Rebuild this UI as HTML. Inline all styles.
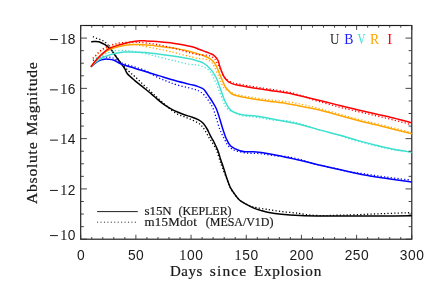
<!DOCTYPE html><html><head><meta charset="utf-8"><style>
html,body{margin:0;padding:0;background:#fff}
body{width:436px;height:291px;overflow:hidden}
svg{display:block;will-change:transform}
</style></head><body>
<svg width="436" height="291" viewBox="0 0 436 291">
<defs><clipPath id="cp"><rect x="80.7" y="25.5" width="331.6" height="213.7"/></clipPath></defs>
<rect width="436" height="291" fill="#fff"/>
<rect x="80.7" y="25.5" width="331.1" height="213.7" fill="none" stroke="#1a1a1a" stroke-width="1.15"/>
<g clip-path="url(#cp)" fill="none" stroke-linejoin="round">
<path d="M91.20 41.70C91.67 41.66 93.15 41.50 94.00 41.45C94.85 41.40 95.50 41.34 96.30 41.40C97.10 41.46 98.00 41.57 98.80 41.80C99.60 42.02 100.23 42.35 101.10 42.75C101.97 43.15 103.08 43.68 104.00 44.20C104.92 44.72 105.80 45.27 106.60 45.85C107.40 46.43 107.98 46.99 108.80 47.70C109.62 48.41 110.58 49.02 111.50 50.10C112.42 51.18 113.27 52.72 114.30 54.20C115.33 55.68 116.57 57.43 117.70 59.00C118.83 60.57 120.18 62.37 121.10 63.60C122.02 64.83 122.57 65.52 123.20 66.40C123.83 67.28 124.20 67.68 124.90 68.90C125.60 70.12 125.75 71.75 127.40 73.70C129.05 75.65 132.20 78.35 134.80 80.60C137.40 82.85 140.25 84.98 143.00 87.20C145.75 89.42 148.98 91.95 151.30 93.90C153.62 95.85 154.82 97.15 156.90 98.90C158.98 100.65 161.52 102.78 163.80 104.40C166.08 106.02 168.32 107.33 170.60 108.60C172.88 109.87 175.20 110.97 177.50 112.00C179.80 113.03 182.10 113.98 184.40 114.80C186.70 115.62 189.00 116.08 191.30 116.90C193.60 117.72 196.18 118.62 198.20 119.70C200.22 120.78 201.92 121.85 203.40 123.40C204.88 124.95 206.00 127.10 207.10 129.00C208.20 130.90 209.10 133.05 210.00 134.80C210.90 136.55 211.97 138.55 212.50 139.50C213.03 140.45 212.57 139.25 213.20 140.50C213.83 141.75 215.47 145.15 216.30 147.00C217.13 148.85 217.42 149.35 218.20 151.60C218.98 153.85 220.18 158.03 221.00 160.50C221.82 162.97 222.12 163.40 223.10 166.40C224.08 169.40 225.63 174.87 226.90 178.50C228.17 182.13 229.22 185.33 230.70 188.20C232.18 191.07 234.25 193.65 235.80 195.70C237.35 197.75 238.15 199.02 240.00 200.50C241.85 201.98 244.60 203.33 246.90 204.60C249.20 205.87 251.52 207.13 253.80 208.10C256.08 209.07 258.32 209.72 260.60 210.40C262.88 211.08 264.05 211.55 267.50 212.20C270.95 212.85 275.88 213.73 281.30 214.30C286.72 214.87 292.97 215.31 300.00 215.60C307.03 215.89 314.17 215.98 323.50 216.05C332.83 216.12 346.08 216.01 356.00 216.00C365.92 215.99 373.70 216.05 383.00 216.00C392.30 215.95 407.00 215.75 411.80 215.70" stroke="#000000" stroke-width="1.5"/>
<path d="M92.90 36.70C93.42 36.93 94.95 37.70 96.00 38.10C97.05 38.50 98.12 38.70 99.20 39.10C100.28 39.50 101.47 39.95 102.50 40.50C103.53 41.05 104.53 41.68 105.40 42.40C106.27 43.12 106.97 44.03 107.70 44.80C108.43 45.57 109.13 46.12 109.80 47.00C110.47 47.88 110.92 48.90 111.70 50.10C112.48 51.30 113.47 52.72 114.50 54.20C115.53 55.68 116.75 57.43 117.90 59.00C119.05 60.57 120.35 62.30 121.40 63.60C122.45 64.90 123.27 65.82 124.20 66.80C125.13 67.78 126.10 68.63 127.00 69.50C127.90 70.37 128.30 70.83 129.60 72.00C130.90 73.17 132.57 74.45 134.80 76.50C137.03 78.55 140.25 81.72 143.00 84.30C145.75 86.88 148.98 89.83 151.30 92.00C153.62 94.17 154.82 95.38 156.90 97.30C158.98 99.22 162.12 102.00 163.80 103.50C165.48 105.00 165.87 105.28 167.00 106.30C168.13 107.32 168.85 108.30 170.60 109.60C172.35 110.90 175.20 112.90 177.50 114.10C179.80 115.30 182.10 115.88 184.40 116.80C186.70 117.72 189.00 118.57 191.30 119.60C193.60 120.63 196.37 121.85 198.20 123.00C200.03 124.15 201.12 125.17 202.30 126.50C203.48 127.83 204.23 129.23 205.30 131.00C206.37 132.77 207.58 135.25 208.70 137.10C209.82 138.95 210.82 140.20 212.00 142.10C213.18 144.00 214.93 146.85 215.80 148.50C216.67 150.15 216.50 149.92 217.20 152.00C217.90 154.08 219.18 158.50 220.00 161.00C220.82 163.50 220.98 164.07 222.10 167.00C223.22 169.93 225.30 175.07 226.70 178.60C228.10 182.13 229.00 185.35 230.50 188.20C232.00 191.05 234.12 193.67 235.70 195.70C237.28 197.73 238.13 198.95 240.00 200.40C241.87 201.85 244.90 203.37 246.90 204.40C248.90 205.43 250.40 206.05 252.00 206.60C253.60 207.15 253.92 207.23 256.50 207.70C259.08 208.17 263.37 208.77 267.50 209.40C271.63 210.03 276.72 210.92 281.30 211.50C285.88 212.08 291.88 212.55 295.00 212.90C298.12 213.25 297.53 213.25 300.00 213.60C302.47 213.95 305.88 214.67 309.80 215.00C313.72 215.33 318.92 215.57 323.50 215.60C328.08 215.63 331.88 215.35 337.30 215.20C342.72 215.05 348.30 214.97 356.00 214.70C363.70 214.43 374.20 213.95 383.50 213.60C392.80 213.25 407.08 212.77 411.80 212.60" stroke="#000000" stroke-width="1.3" stroke-dasharray="1.2 2.2"/>
<path d="M90.90 66.80C91.47 66.30 93.15 64.72 94.30 63.80C95.45 62.88 96.65 61.95 97.80 61.30C98.95 60.65 100.07 60.25 101.20 59.90C102.33 59.55 103.45 59.32 104.60 59.20C105.75 59.08 106.57 59.03 108.10 59.20C109.63 59.37 111.72 59.45 113.80 60.20C115.88 60.95 117.93 62.60 120.60 63.70C123.27 64.80 126.07 65.62 129.80 66.80C133.53 67.98 138.05 69.28 143.00 70.80C147.95 72.32 153.92 74.20 159.50 75.90C165.08 77.60 170.92 79.47 176.50 81.00C182.08 82.53 189.27 84.12 193.00 85.10C196.73 86.08 197.35 86.37 198.90 86.90C200.45 87.43 201.50 87.90 202.30 88.30C203.10 88.70 203.25 88.88 203.70 89.30C204.15 89.72 204.43 90.05 205.00 90.80C205.57 91.55 206.40 92.78 207.10 93.80C207.80 94.82 208.50 95.87 209.20 96.90C209.90 97.93 210.13 98.07 211.30 100.00C212.47 101.93 214.83 105.50 216.20 108.50C217.57 111.50 218.40 114.58 219.50 118.00C220.60 121.42 221.68 125.58 222.80 129.00C223.92 132.42 224.88 135.67 226.20 138.50C227.52 141.33 228.42 143.95 230.70 146.00C232.98 148.05 237.22 149.83 239.90 150.80C242.58 151.77 244.05 151.62 246.80 151.80C249.55 151.98 253.65 151.73 256.40 151.90C259.15 152.07 261.00 152.47 263.30 152.80C265.60 153.13 267.08 153.32 270.20 153.90C273.32 154.48 277.47 155.33 282.00 156.30C286.53 157.27 291.92 158.42 297.40 159.70C302.88 160.98 309.08 162.63 314.90 164.00C320.72 165.37 325.45 166.35 332.30 167.90C339.15 169.45 349.75 171.97 356.00 173.30C362.25 174.63 365.22 175.10 369.80 175.90C374.38 176.70 378.92 177.42 383.50 178.10C388.08 178.78 392.58 179.37 397.30 180.00C402.02 180.63 409.38 181.58 411.80 181.90" stroke="#0000ff" stroke-width="1.5"/>
<path d="M92.90 60.50C94.33 59.95 98.98 57.75 101.50 57.20C104.02 56.65 106.08 57.07 108.00 57.20C109.92 57.33 110.78 57.08 113.00 58.00C115.22 58.92 118.55 61.47 121.30 62.70C124.05 63.93 126.75 64.53 129.50 65.40C132.25 66.27 135.05 67.02 137.80 67.90C140.55 68.78 143.75 69.68 146.00 70.70C148.25 71.72 148.97 72.70 151.30 74.00C153.63 75.30 157.25 77.25 160.00 78.50C162.75 79.75 165.05 80.45 167.80 81.50C170.55 82.55 172.30 83.57 176.50 84.80C180.70 86.03 189.15 87.80 193.00 88.90C196.85 90.00 197.67 90.30 199.60 91.40C201.53 92.50 202.95 93.72 204.60 95.50C206.25 97.28 208.10 99.97 209.50 102.10C210.90 104.23 211.87 105.62 213.00 108.30C214.13 110.98 215.20 114.77 216.30 118.20C217.40 121.63 218.65 126.22 219.60 128.90C220.55 131.58 221.13 132.48 222.00 134.30C222.87 136.12 223.88 138.02 224.80 139.80C225.72 141.58 226.37 143.50 227.50 145.00C228.63 146.50 230.22 147.83 231.60 148.80C232.98 149.77 233.97 150.20 235.80 150.80C237.63 151.40 240.32 152.00 242.60 152.40C244.88 152.80 247.20 153.03 249.50 153.20C251.80 153.37 254.10 153.27 256.40 153.40C258.70 153.53 261.00 153.73 263.30 154.00C265.60 154.27 267.92 154.67 270.20 155.00C272.48 155.33 275.03 155.75 277.00 156.00C278.97 156.25 280.67 156.42 282.00 156.50C283.33 156.58 284.00 156.45 285.00 156.48C286.00 156.51 287.00 156.54 288.00 156.69C289.00 156.83 290.00 157.12 291.00 157.35C292.00 157.57 293.00 157.79 294.00 158.02C295.00 158.24 296.00 158.47 297.00 158.71C298.00 158.94 299.00 159.18 300.00 159.42C301.00 159.66 302.00 159.85 303.00 160.16C304.00 160.47 305.00 160.92 306.00 161.30C307.00 161.68 308.00 162.10 309.00 162.44C310.00 162.77 311.00 163.04 312.00 163.30C313.00 163.57 314.00 163.79 315.00 164.02C316.00 164.26 317.00 164.49 318.00 164.72C319.00 164.94 320.00 165.17 321.00 165.39C322.00 165.61 323.00 165.83 324.00 166.05C325.00 166.28 326.00 166.50 327.00 166.72C328.00 166.94 329.00 167.16 330.00 167.38C331.00 167.61 332.00 167.83 333.00 168.06C334.00 168.29 335.00 168.52 336.00 168.75C337.00 168.98 338.00 169.21 339.00 169.44C340.00 169.67 341.00 169.90 342.00 170.13C343.00 170.36 344.00 170.59 345.00 170.83C346.00 171.06 347.00 171.30 348.00 171.51C349.00 171.73 350.00 171.94 351.00 172.10C352.00 172.27 353.00 172.37 354.00 172.50C355.00 172.63 356.00 172.75 357.00 172.87C358.00 172.99 359.00 173.09 360.00 173.21C361.00 173.33 362.00 173.44 363.00 173.59C364.00 173.74 365.00 173.93 366.00 174.09C367.00 174.26 368.00 174.42 369.00 174.58C370.00 174.74 371.00 174.90 372.00 175.06C373.00 175.22 374.00 175.37 375.00 175.52C376.00 175.67 377.00 175.82 378.00 175.97C379.00 176.11 380.00 176.25 381.00 176.39C382.00 176.54 383.00 176.67 384.00 176.81C385.00 176.95 386.00 177.08 387.00 177.21C388.00 177.34 389.00 177.46 390.00 177.59C391.00 177.71 392.00 177.83 393.00 177.95C394.00 178.08 395.00 178.20 396.00 178.32C397.00 178.44 398.00 178.56 399.00 178.68C400.00 178.80 401.00 178.92 402.00 179.04C403.00 179.16 404.00 179.28 405.00 179.40C406.00 179.52 407.00 179.64 408.00 179.75C409.00 179.87 410.50 180.05 411.00 180.11" stroke="#0000ff" stroke-width="1.3" stroke-dasharray="1.2 2.2"/>
<path d="M90.90 66.80C91.47 66.23 93.15 64.43 94.30 63.40C95.45 62.37 96.65 61.42 97.80 60.60C98.95 59.78 100.07 59.13 101.20 58.50C102.33 57.87 103.45 57.30 104.60 56.80C105.75 56.30 106.58 56.00 108.10 55.50C109.62 55.00 111.08 54.37 113.70 53.80C116.32 53.23 120.75 52.42 123.80 52.10C126.85 51.78 129.30 51.88 132.00 51.90C134.70 51.92 137.67 52.08 140.00 52.20C142.33 52.32 143.25 52.35 146.00 52.60C148.75 52.85 152.00 53.13 156.50 53.70C161.00 54.27 167.50 55.15 173.00 56.00C178.50 56.85 185.67 58.05 189.50 58.80C193.33 59.55 194.07 59.97 196.00 60.50C197.93 61.03 199.52 61.33 201.10 62.00C202.68 62.67 204.18 63.55 205.50 64.50C206.82 65.45 207.92 66.63 209.00 67.70C210.08 68.77 211.07 69.72 212.00 70.90C212.93 72.08 213.83 73.53 214.60 74.80C215.37 76.07 215.67 76.27 216.60 78.50C217.53 80.73 218.90 84.65 220.20 88.20C221.50 91.75 222.97 96.50 224.40 99.80C225.83 103.10 227.38 106.02 228.80 108.00C230.22 109.98 231.07 110.65 232.90 111.70C234.73 112.75 237.52 113.70 239.80 114.30C242.08 114.90 244.32 115.05 246.60 115.30C248.88 115.55 251.20 115.57 253.50 115.80C255.80 116.03 258.10 116.33 260.40 116.70C262.70 117.07 265.00 117.57 267.30 118.00C269.60 118.43 272.08 118.90 274.20 119.30C276.32 119.70 276.73 119.77 280.00 120.40C283.27 121.03 289.22 122.08 293.80 123.10C298.38 124.12 302.92 125.28 307.50 126.50C312.08 127.72 315.88 128.93 321.30 130.40C326.72 131.87 333.98 133.63 340.00 135.30C346.02 136.97 351.58 138.80 357.40 140.40C363.22 142.00 369.08 143.48 374.90 144.90C380.72 146.32 386.15 147.67 392.30 148.90C398.45 150.13 408.55 151.73 411.80 152.30" stroke="#40e0d0" stroke-width="1.5"/>
<path d="M92.90 59.70C93.50 59.38 95.23 58.42 96.50 57.80C97.77 57.18 99.12 56.58 100.50 56.00C101.88 55.42 103.43 54.90 104.80 54.30C106.17 53.70 107.33 52.95 108.70 52.40C110.07 51.85 110.90 51.32 113.00 51.00C115.10 50.68 118.55 50.53 121.30 50.50C124.05 50.47 126.75 50.52 129.50 50.80C132.25 51.08 135.05 51.72 137.80 52.20C140.55 52.68 142.88 53.00 146.00 53.70C149.12 54.40 152.00 55.27 156.50 56.40C161.00 57.53 167.50 59.18 173.00 60.50C178.50 61.82 185.67 63.58 189.50 64.30C193.33 65.02 194.03 64.52 196.00 64.80C197.97 65.08 199.22 65.15 201.30 66.00C203.38 66.85 206.70 68.40 208.50 69.90C210.30 71.40 211.05 73.23 212.10 75.00C213.15 76.77 213.85 78.42 214.80 80.50C215.75 82.58 216.38 84.03 217.80 87.50C219.22 90.97 221.97 98.05 223.30 101.30C224.63 104.55 224.68 105.45 225.80 107.00C226.92 108.55 228.63 109.69 230.00 110.60C231.37 111.51 232.83 111.90 234.00 112.45C235.17 113.00 236.00 113.48 237.00 113.91C238.00 114.35 239.00 114.75 240.00 115.08C241.00 115.42 242.00 115.70 243.00 115.91C244.00 116.12 245.00 116.22 246.00 116.34C247.00 116.45 248.00 116.52 249.00 116.60C250.00 116.67 251.00 116.70 252.00 116.77C253.00 116.85 254.00 116.95 255.00 117.06C256.00 117.17 257.00 117.30 258.00 117.44C259.00 117.58 260.00 117.73 261.00 117.90C262.00 118.07 263.00 118.26 264.00 118.45C265.00 118.65 266.00 118.85 267.00 119.04C268.00 119.24 269.00 119.42 270.00 119.61C271.00 119.80 272.00 120.05 273.00 120.17C274.00 120.30 275.00 120.33 276.00 120.37C277.00 120.41 278.00 120.39 279.00 120.39C280.00 120.39 281.00 120.39 282.00 120.38C283.00 120.37 284.00 120.25 285.00 120.34C286.00 120.43 287.00 120.72 288.00 120.91C289.00 121.11 290.00 121.30 291.00 121.51C292.00 121.71 293.00 121.92 294.00 122.14C295.00 122.37 296.00 122.60 297.00 122.84C298.00 123.07 299.00 123.28 300.00 123.56C301.00 123.84 302.00 124.19 303.00 124.51C304.00 124.83 305.00 125.16 306.00 125.48C307.00 125.80 308.00 126.12 309.00 126.44C310.00 126.75 311.00 127.06 312.00 127.37C313.00 127.69 314.00 128.01 315.00 128.33C316.00 128.65 317.00 128.98 318.00 129.28C319.00 129.59 320.00 129.87 321.00 130.15C322.00 130.44 323.00 130.71 324.00 130.99C325.00 131.26 326.00 131.53 327.00 131.80C328.00 132.07 329.00 132.34 330.00 132.61C331.00 132.88 332.00 133.14 333.00 133.42C334.00 133.69 335.00 133.97 336.00 134.28C337.00 134.59 338.00 134.94 339.00 135.27C340.00 135.61 341.00 135.95 342.00 136.30C343.00 136.64 344.00 137.00 345.00 137.36C346.00 137.71 347.00 138.11 348.00 138.44C349.00 138.77 350.00 139.05 351.00 139.34C352.00 139.64 353.00 139.94 354.00 140.23C355.00 140.52 356.00 140.81 357.00 141.09C358.00 141.37 359.00 141.64 360.00 141.91C361.00 142.18 362.00 142.44 363.00 142.70C364.00 142.96 365.00 143.22 366.00 143.48C367.00 143.74 368.00 143.99 369.00 144.24C370.00 144.49 371.00 144.74 372.00 144.99C373.00 145.24 374.00 145.48 375.00 145.72C376.00 145.97 377.00 146.21 378.00 146.46C379.00 146.70 380.00 146.94 381.00 147.18C382.00 147.42 383.00 147.66 384.00 147.89C385.00 148.12 386.00 148.35 387.00 148.57C388.00 148.80 389.00 149.03 390.00 149.23C391.00 149.43 392.00 149.62 393.00 149.78C394.00 149.93 395.00 150.03 396.00 150.16C397.00 150.28 398.00 150.39 399.00 150.51C400.00 150.62 401.00 150.73 402.00 150.84C403.00 150.95 404.00 151.03 405.00 151.16C406.00 151.30 407.00 151.50 408.00 151.66C409.00 151.83 410.50 152.08 411.00 152.16" stroke="#40e0d0" stroke-width="1.3" stroke-dasharray="1.2 2.2"/>
<path d="M90.90 66.80C91.47 66.08 93.15 63.87 94.30 62.50C95.45 61.13 96.65 59.80 97.80 58.60C98.95 57.40 100.17 56.23 101.20 55.30C102.23 54.37 103.10 53.72 104.00 53.00C104.90 52.28 105.58 51.63 106.60 51.00C107.62 50.37 108.38 49.87 110.10 49.20C111.82 48.53 114.62 47.62 116.90 47.00C119.18 46.38 121.52 45.88 123.80 45.50C126.08 45.12 127.90 44.85 130.60 44.70C133.30 44.55 137.43 44.57 140.00 44.60C142.57 44.63 144.00 44.78 146.00 44.90C148.00 45.02 150.25 45.13 152.00 45.30C153.75 45.47 153.00 45.43 156.50 45.90C160.00 46.37 167.42 47.15 173.00 48.10C178.58 49.05 186.08 50.72 190.00 51.60C193.92 52.48 194.20 52.72 196.50 53.40C198.80 54.08 201.45 54.75 203.80 55.70C206.15 56.65 208.77 57.83 210.60 59.10C212.43 60.37 213.65 61.68 214.80 63.30C215.95 64.92 216.58 66.75 217.50 68.80C218.42 70.85 219.38 73.43 220.30 75.60C221.22 77.77 222.12 79.85 223.00 81.80C223.88 83.75 224.28 85.42 225.60 87.30C226.92 89.18 229.68 91.90 230.90 93.10C232.12 94.30 231.42 93.95 232.90 94.50C234.38 95.05 236.37 95.67 239.80 96.40C243.23 97.13 248.92 98.13 253.50 98.90C258.08 99.67 261.88 100.25 267.30 101.00C272.72 101.75 280.97 102.65 286.00 103.40C291.03 104.15 293.28 104.68 297.50 105.50C301.72 106.32 306.55 107.25 311.30 108.30C316.05 109.35 321.25 110.60 326.00 111.80C330.75 113.00 335.22 114.27 339.80 115.50C344.38 116.73 348.92 117.98 353.50 119.20C358.08 120.42 363.38 121.83 367.30 122.80C371.22 123.77 372.63 123.99 377.00 125.05C381.37 126.11 387.70 127.71 393.50 129.15C399.30 130.59 408.75 132.94 411.80 133.70" stroke="#ffa500" stroke-width="1.5"/>
<path d="M92.90 58.80C93.32 58.38 94.58 57.10 95.40 56.30C96.22 55.50 96.95 54.75 97.80 54.00C98.65 53.25 99.55 52.53 100.50 51.80C101.45 51.07 102.42 50.25 103.50 49.60C104.58 48.95 105.75 48.43 107.00 47.90C108.25 47.37 109.63 46.85 111.00 46.40C112.37 45.95 113.87 45.55 115.20 45.20C116.53 44.85 117.80 44.53 119.00 44.30C120.20 44.07 121.20 43.93 122.40 43.80C123.60 43.67 124.60 43.47 126.20 43.50C127.80 43.53 129.53 43.65 132.00 44.00C134.47 44.35 136.92 44.83 141.00 45.60C145.08 46.37 151.73 47.62 156.50 48.60C161.27 49.58 166.85 50.90 169.60 51.50C172.35 52.10 169.68 51.38 173.00 52.20C176.32 53.02 186.22 55.58 189.50 56.40C192.78 57.22 191.60 56.82 192.70 57.10C193.80 57.38 194.95 57.83 196.10 58.10C197.25 58.37 198.45 58.57 199.60 58.70C200.75 58.83 201.85 58.77 203.00 58.90C204.15 59.03 205.42 59.17 206.50 59.50C207.58 59.83 208.58 60.35 209.50 60.90C210.42 61.45 211.22 61.88 212.00 62.80C212.78 63.72 213.15 64.28 214.20 66.40C215.25 68.52 217.07 72.60 218.30 75.50C219.53 78.40 220.48 81.55 221.60 83.80C222.72 86.05 223.45 87.58 225.00 89.00C226.55 90.42 229.40 91.50 230.90 92.30C232.40 93.10 232.98 93.43 234.00 93.81C235.02 94.19 236.00 94.34 237.00 94.56C238.00 94.78 239.00 94.95 240.00 95.14C241.00 95.34 242.00 95.54 243.00 95.73C244.00 95.92 245.00 96.10 246.00 96.28C247.00 96.46 248.00 96.63 249.00 96.80C250.00 96.97 251.00 97.14 252.00 97.31C253.00 97.47 254.00 97.64 255.00 97.80C256.00 97.96 257.00 98.12 258.00 98.27C259.00 98.43 260.00 98.58 261.00 98.72C262.00 98.87 263.00 99.01 264.00 99.15C265.00 99.30 266.00 99.43 267.00 99.57C268.00 99.70 269.00 99.84 270.00 99.96C271.00 100.07 272.00 100.16 273.00 100.26C274.00 100.36 275.00 100.46 276.00 100.55C277.00 100.65 278.00 100.75 279.00 100.85C280.00 100.95 281.00 101.05 282.00 101.15C283.00 101.26 284.00 101.36 285.00 101.48C286.00 101.60 287.00 101.72 288.00 101.86C289.00 102.00 290.00 102.15 291.00 102.32C292.00 102.49 293.00 102.69 294.00 102.88C295.00 103.07 296.00 103.27 297.00 103.46C298.00 103.65 299.00 103.83 300.00 104.02C301.00 104.21 302.00 104.39 303.00 104.59C304.00 104.78 305.00 104.98 306.00 105.20C307.00 105.42 308.00 105.66 309.00 105.90C310.00 106.13 311.00 106.38 312.00 106.62C313.00 106.87 314.00 107.12 315.00 107.38C316.00 107.63 317.00 107.89 318.00 108.15C319.00 108.41 320.00 108.68 321.00 108.94C322.00 109.21 323.00 109.48 324.00 109.75C325.00 110.03 326.00 110.30 327.00 110.58C328.00 110.86 329.00 111.16 330.00 111.44C331.00 111.72 332.00 111.98 333.00 112.26C334.00 112.53 335.00 112.81 336.00 113.08C337.00 113.36 338.00 113.63 339.00 113.91C340.00 114.18 341.00 114.45 342.00 114.72C343.00 115.00 344.00 115.27 345.00 115.54C346.00 115.82 347.00 116.09 348.00 116.37C349.00 116.64 350.00 116.91 351.00 117.18C352.00 117.45 353.00 117.72 354.00 117.99C355.00 118.26 356.00 118.53 357.00 118.79C358.00 119.06 359.00 119.33 360.00 119.59C361.00 119.86 362.00 120.12 363.00 120.38C364.00 120.65 365.00 120.91 366.00 121.16C367.00 121.42 368.00 121.67 369.00 121.91C370.00 122.15 371.00 122.37 372.00 122.60C373.00 122.83 374.00 123.05 375.00 123.28C376.00 123.52 377.00 123.77 378.00 124.01C379.00 124.26 380.00 124.51 381.00 124.76C382.00 125.01 383.00 125.26 384.00 125.51C385.00 125.76 386.00 126.01 387.00 126.27C388.00 126.52 389.00 126.77 390.00 127.02C391.00 127.28 392.00 127.53 393.00 127.78C394.00 128.03 395.00 128.28 396.00 128.53C397.00 128.78 398.00 129.03 399.00 129.29C400.00 129.54 401.00 129.79 402.00 130.04C403.00 130.29 404.00 130.54 405.00 130.79C406.00 131.04 407.00 131.29 408.00 131.55C409.00 131.80 410.50 132.17 411.00 132.30" stroke="#ffa500" stroke-width="1.3" stroke-dasharray="1.2 2.2"/>
<path d="M90.90 66.80C91.47 66.05 93.15 63.73 94.30 62.30C95.45 60.87 96.65 59.46 97.80 58.20C98.95 56.94 100.17 55.73 101.20 54.75C102.23 53.77 103.10 53.07 104.00 52.30C104.90 51.52 105.58 50.80 106.60 50.10C107.62 49.40 108.38 48.85 110.10 48.10C111.82 47.35 114.62 46.35 116.90 45.60C119.18 44.85 121.52 44.22 123.80 43.60C126.08 42.98 127.90 42.37 130.60 41.90C133.30 41.43 137.43 40.97 140.00 40.80C142.57 40.63 144.00 40.83 146.00 40.90C148.00 40.97 150.25 41.10 152.00 41.20C153.75 41.30 153.00 41.17 156.50 41.50C160.00 41.83 167.08 42.32 173.00 43.20C178.92 44.08 187.68 45.80 192.00 46.80C196.32 47.80 196.60 48.37 198.90 49.20C201.20 50.03 203.95 51.10 205.80 51.80C207.65 52.50 208.97 53.00 210.00 53.40C211.03 53.80 211.47 53.95 212.00 54.20C212.53 54.45 212.82 54.63 213.20 54.90C213.58 55.17 213.93 55.48 214.30 55.80C214.67 56.12 214.87 56.17 215.40 56.80C215.93 57.43 216.97 58.77 217.50 59.60C218.03 60.43 218.27 60.82 218.60 61.80C218.93 62.78 219.10 64.17 219.50 65.50C219.90 66.83 220.47 68.38 221.00 69.80C221.53 71.22 222.13 72.77 222.70 74.00C223.27 75.23 223.55 76.00 224.40 77.20C225.25 78.40 226.70 80.22 227.80 81.20C228.90 82.18 229.92 82.57 231.00 83.10C232.08 83.63 232.83 84.00 234.30 84.40C235.77 84.80 236.60 84.92 239.80 85.50C243.00 86.08 248.92 87.15 253.50 87.90C258.08 88.65 261.88 89.18 267.30 90.00C272.72 90.82 280.97 91.93 286.00 92.80C291.03 93.67 293.28 94.25 297.50 95.20C301.72 96.15 306.55 97.37 311.30 98.50C316.05 99.63 321.25 100.83 326.00 102.00C330.75 103.17 335.22 104.37 339.80 105.50C344.38 106.63 348.92 107.73 353.50 108.80C358.08 109.87 363.38 111.00 367.30 111.90C371.22 112.80 372.63 113.18 377.00 114.20C381.37 115.22 387.70 116.62 393.50 118.05C399.30 119.48 408.75 122.01 411.80 122.80" stroke="#ff0000" stroke-width="1.5"/>
<path d="M92.90 58.20C93.30 57.83 94.50 56.83 95.30 56.00C96.10 55.17 96.90 54.03 97.70 53.20C98.50 52.37 99.23 51.72 100.10 51.00C100.97 50.28 101.92 49.53 102.90 48.90C103.88 48.27 104.97 47.71 106.00 47.20C107.03 46.69 108.07 46.27 109.10 45.85C110.13 45.43 111.12 45.04 112.20 44.70C113.28 44.36 114.25 44.10 115.60 43.80C116.95 43.50 118.60 43.13 120.30 42.90C122.00 42.67 123.85 42.50 125.80 42.40C127.75 42.30 129.40 42.28 132.00 42.30C134.60 42.32 137.32 42.15 141.40 42.50C145.48 42.85 151.23 43.48 156.50 44.40C161.77 45.32 167.50 46.62 173.00 48.00C178.50 49.38 185.82 51.70 189.50 52.70C193.18 53.70 193.60 53.67 195.10 54.00C196.60 54.33 197.35 54.53 198.50 54.70C199.65 54.87 200.85 54.93 202.00 55.00C203.15 55.07 204.32 55.02 205.40 55.10C206.48 55.18 207.47 55.23 208.50 55.50C209.53 55.77 210.62 56.15 211.60 56.70C212.58 57.25 213.65 58.05 214.40 58.80C215.15 59.55 215.18 59.65 216.10 61.20C217.02 62.75 218.67 65.63 219.90 68.10C221.13 70.57 222.12 73.93 223.50 76.00C224.88 78.07 226.45 79.28 228.20 80.50C229.95 81.72 232.53 82.76 234.00 83.32C235.47 83.87 236.00 83.69 237.00 83.84C238.00 84.00 239.00 84.08 240.00 84.24C241.00 84.39 242.00 84.60 243.00 84.78C244.00 84.96 245.00 85.14 246.00 85.32C247.00 85.50 248.00 85.67 249.00 85.85C250.00 86.02 251.00 86.19 252.00 86.36C253.00 86.53 254.00 86.70 255.00 86.86C256.00 87.02 257.00 87.17 258.00 87.33C259.00 87.48 260.00 87.63 261.00 87.78C262.00 87.93 263.00 88.08 264.00 88.23C265.00 88.38 266.00 88.53 267.00 88.68C268.00 88.83 269.00 88.98 270.00 89.13C271.00 89.28 272.00 89.42 273.00 89.57C274.00 89.71 275.00 89.86 276.00 90.00C277.00 90.15 278.00 90.29 279.00 90.44C280.00 90.59 281.00 90.74 282.00 90.90C283.00 91.05 284.00 91.21 285.00 91.38C286.00 91.55 287.00 91.71 288.00 91.90C289.00 92.10 290.00 92.31 291.00 92.56C292.00 92.81 293.00 93.12 294.00 93.41C295.00 93.70 296.00 94.00 297.00 94.29C298.00 94.59 299.00 94.86 300.00 95.18C301.00 95.49 302.00 95.85 303.00 96.19C304.00 96.53 305.00 96.86 306.00 97.22C307.00 97.58 308.00 97.96 309.00 98.33C310.00 98.70 311.00 99.10 312.00 99.44C313.00 99.78 314.00 100.07 315.00 100.37C316.00 100.67 317.00 100.93 318.00 101.21C319.00 101.50 320.00 101.78 321.00 102.06C322.00 102.35 323.00 102.64 324.00 102.92C325.00 103.20 326.00 103.49 327.00 103.76C328.00 104.04 329.00 104.30 330.00 104.57C331.00 104.84 332.00 105.11 333.00 105.38C334.00 105.65 335.00 105.93 336.00 106.20C337.00 106.47 338.00 106.74 339.00 107.01C340.00 107.27 341.00 107.53 342.00 107.79C343.00 108.06 344.00 108.32 345.00 108.58C346.00 108.83 347.00 109.07 348.00 109.31C349.00 109.55 350.00 109.79 351.00 110.03C352.00 110.27 353.00 110.51 354.00 110.74C355.00 110.98 356.00 111.21 357.00 111.43C358.00 111.66 359.00 111.89 360.00 112.11C361.00 112.34 362.00 112.56 363.00 112.79C364.00 113.01 365.00 113.24 366.00 113.47C367.00 113.70 368.00 113.93 369.00 114.17C370.00 114.40 371.00 114.65 372.00 114.89C373.00 115.13 374.00 115.38 375.00 115.62C376.00 115.86 377.00 116.10 378.00 116.33C379.00 116.57 380.00 116.80 381.00 117.03C382.00 117.26 383.00 117.49 384.00 117.73C385.00 117.96 386.00 118.19 387.00 118.43C388.00 118.66 389.00 118.90 390.00 119.14C391.00 119.38 392.00 119.62 393.00 119.87C394.00 120.12 395.00 120.37 396.00 120.63C397.00 120.89 398.00 121.15 399.00 121.41C400.00 121.67 401.00 121.93 402.00 122.20C403.00 122.46 404.00 122.73 405.00 122.99C406.00 123.26 407.00 123.52 408.00 123.79C409.00 124.06 410.50 124.46 411.00 124.59" stroke="#ff0000" stroke-width="1.3" stroke-dasharray="1.2 2.2"/>
</g>
<path d="M80.70 239.20v-4.40M80.70 25.50v4.40M91.74 239.20v-2.20M91.74 25.50v2.20M102.77 239.20v-2.20M102.77 25.50v2.20M113.81 239.20v-2.20M113.81 25.50v2.20M124.85 239.20v-2.20M124.85 25.50v2.20M135.88 239.20v-4.40M135.88 25.50v4.40M146.92 239.20v-2.20M146.92 25.50v2.20M157.96 239.20v-2.20M157.96 25.50v2.20M168.99 239.20v-2.20M168.99 25.50v2.20M180.03 239.20v-2.20M180.03 25.50v2.20M191.07 239.20v-4.40M191.07 25.50v4.40M202.10 239.20v-2.20M202.10 25.50v2.20M213.14 239.20v-2.20M213.14 25.50v2.20M224.18 239.20v-2.20M224.18 25.50v2.20M235.21 239.20v-2.20M235.21 25.50v2.20M246.25 239.20v-4.40M246.25 25.50v4.40M257.29 239.20v-2.20M257.29 25.50v2.20M268.32 239.20v-2.20M268.32 25.50v2.20M279.36 239.20v-2.20M279.36 25.50v2.20M290.40 239.20v-2.20M290.40 25.50v2.20M301.43 239.20v-4.40M301.43 25.50v4.40M312.47 239.20v-2.20M312.47 25.50v2.20M323.51 239.20v-2.20M323.51 25.50v2.20M334.54 239.20v-2.20M334.54 25.50v2.20M345.58 239.20v-2.20M345.58 25.50v2.20M356.62 239.20v-4.40M356.62 25.50v4.40M367.65 239.20v-2.20M367.65 25.50v2.20M378.69 239.20v-2.20M378.69 25.50v2.20M389.73 239.20v-2.20M389.73 25.50v2.20M400.76 239.20v-2.20M400.76 25.50v2.20M411.80 239.20v-4.40M411.80 25.50v4.40M80.70 239.20h6.30M411.80 239.20h-6.30M80.70 226.63h3.20M411.80 226.63h-3.20M80.70 214.06h3.20M411.80 214.06h-3.20M80.70 201.49h3.20M411.80 201.49h-3.20M80.70 188.92h6.30M411.80 188.92h-6.30M80.70 176.35h3.20M411.80 176.35h-3.20M80.70 163.78h3.20M411.80 163.78h-3.20M80.70 151.21h3.20M411.80 151.21h-3.20M80.70 138.64h6.30M411.80 138.64h-6.30M80.70 126.07h3.20M411.80 126.07h-3.20M80.70 113.50h3.20M411.80 113.50h-3.20M80.70 100.93h3.20M411.80 100.93h-3.20M80.70 88.36h6.30M411.80 88.36h-6.30M80.70 75.79h3.20M411.80 75.79h-3.20M80.70 63.22h3.20M411.80 63.22h-3.20M80.70 50.65h3.20M411.80 50.65h-3.20M80.70 38.08h6.30M411.80 38.08h-6.30M80.70 25.51h3.20M411.80 25.51h-3.20" stroke="#333" stroke-width="0.9" fill="none"/>
<path d="M97.1 211.6H137.8" stroke="#222" stroke-width="1" fill="none"/>
<path d="M97.1 222.2H137" stroke="#222" stroke-width="1" stroke-dasharray="1 2.43" fill="none"/>
<g fill="#1a1a1a">
<text x="81.0" y="259.6" text-anchor="middle" style="font-family:'Liberation Sans',sans-serif;font-size:13.8px;letter-spacing:0.5px">0</text>
<text x="136.1" y="259.6" text-anchor="middle" style="font-family:'Liberation Sans',sans-serif;font-size:13.8px;letter-spacing:0.5px">50</text>
<text x="191.3" y="259.6" text-anchor="middle" style="font-family:'Liberation Sans',sans-serif;font-size:13.8px;letter-spacing:0.5px"><tspan style="font-family:'Liberation Serif',serif;font-size:15px">1</tspan>00</text>
<text x="246.5" y="259.6" text-anchor="middle" style="font-family:'Liberation Sans',sans-serif;font-size:13.8px;letter-spacing:0.5px"><tspan style="font-family:'Liberation Serif',serif;font-size:15px">1</tspan>50</text>
<text x="301.7" y="259.6" text-anchor="middle" style="font-family:'Liberation Sans',sans-serif;font-size:13.8px;letter-spacing:0.5px">200</text>
<text x="356.9" y="259.6" text-anchor="middle" style="font-family:'Liberation Sans',sans-serif;font-size:13.8px;letter-spacing:0.5px">250</text>
<text x="412.1" y="259.6" text-anchor="middle" style="font-family:'Liberation Sans',sans-serif;font-size:13.8px;letter-spacing:0.5px">300</text>
<text x="75.9" y="239.8" text-anchor="end" style="font-family:'Liberation Sans',sans-serif;font-size:13.8px;letter-spacing:0.4px"><tspan style="font-family:'Liberation Serif',serif;font-size:15px">1</tspan>0</text>
<path d="M50.0 235.60H57.9" stroke="#1a1a1a" stroke-width="1" fill="none"/>
<text x="75.9" y="194.6" text-anchor="end" style="font-family:'Liberation Sans',sans-serif;font-size:13.8px;letter-spacing:0.4px"><tspan style="font-family:'Liberation Serif',serif;font-size:15px">1</tspan>2</text>
<path d="M50.0 190.42H57.9" stroke="#1a1a1a" stroke-width="1" fill="none"/>
<text x="75.9" y="144.3" text-anchor="end" style="font-family:'Liberation Sans',sans-serif;font-size:13.8px;letter-spacing:0.4px"><tspan style="font-family:'Liberation Serif',serif;font-size:15px">1</tspan>4</text>
<path d="M50.0 140.14H57.9" stroke="#1a1a1a" stroke-width="1" fill="none"/>
<text x="75.9" y="94.1" text-anchor="end" style="font-family:'Liberation Sans',sans-serif;font-size:13.8px;letter-spacing:0.4px"><tspan style="font-family:'Liberation Serif',serif;font-size:15px">1</tspan>6</text>
<path d="M50.0 89.86H57.9" stroke="#1a1a1a" stroke-width="1" fill="none"/>
<text x="75.9" y="43.8" text-anchor="end" style="font-family:'Liberation Sans',sans-serif;font-size:13.8px;letter-spacing:0.4px"><tspan style="font-family:'Liberation Serif',serif;font-size:15px">1</tspan>8</text>
<path d="M50.0 39.58H57.9" stroke="#1a1a1a" stroke-width="1" fill="none"/>
<text transform="translate(169.90,275.70) scale(1.100,1)" stroke="#1a1a1a" stroke-width="0.2" style="font-family:'Liberation Serif',serif;font-size:13.6px;letter-spacing:0.51px">Days</text>
<text transform="translate(209.70,275.70) scale(1.140,1)" stroke="#1a1a1a" stroke-width="0.2" style="font-family:'Liberation Serif',serif;font-size:13.6px;letter-spacing:1.03px">since</text>
<text transform="translate(254.00,275.70) scale(1.120,1)" stroke="#1a1a1a" stroke-width="0.2" style="font-family:'Liberation Serif',serif;font-size:13.6px;letter-spacing:0.62px">Explosion</text>
<text transform="translate(37.20,204.00) rotate(-90) scale(1.120,1)" stroke="#1a1a1a" stroke-width="0.2" style="font-family:'Liberation Serif',serif;font-size:14px;letter-spacing:0.64px">Absolute</text>
<text transform="translate(37.20,135.50) rotate(-90) scale(1.120,1)" stroke="#1a1a1a" stroke-width="0.2" style="font-family:'Liberation Serif',serif;font-size:14px;letter-spacing:0.59px">Magnitude</text>
<text transform="translate(144.50,214.60) scale(1.080,1)" stroke="#1a1a1a" stroke-width="0.17" style="font-family:'Liberation Serif',serif;font-size:12px;letter-spacing:-0.04px">s15N</text>
<text transform="translate(178.50,214.60) scale(1.000,1)" stroke="#1a1a1a" stroke-width="0.17" style="font-family:'Liberation Serif',serif;font-size:12px;letter-spacing:-0.03px">(KEPLER)</text>
<text transform="translate(144.50,225.50) scale(1.080,1)" stroke="#1a1a1a" stroke-width="0.17" style="font-family:'Liberation Serif',serif;font-size:12px;letter-spacing:0.21px">m15Mdot</text>
<text transform="translate(205.80,225.50) scale(1.000,1)" stroke="#1a1a1a" stroke-width="0.17" style="font-family:'Liberation Serif',serif;font-size:12px;letter-spacing:-0.04px">(MESA/V1D)</text>
</g>
<text transform="translate(330.0,43.8) scale(0.90,1)" fill="#222" style="font-family:'Liberation Serif',serif;font-size:14.5px">U</text>
<text transform="translate(344.3,43.8) scale(0.95,1)" fill="#1a1aff" style="font-family:'Liberation Serif',serif;font-size:14.5px">B</text>
<text transform="translate(357.5,43.8) scale(0.76,1)" fill="#40e0d0" style="font-family:'Liberation Serif',serif;font-size:14.5px">V</text>
<text transform="translate(369.9,43.8) scale(0.95,1)" fill="#ffa500" style="font-family:'Liberation Serif',serif;font-size:14.5px">R</text>
<text transform="translate(387.3,43.8) scale(1.00,1)" fill="#ff0000" style="font-family:'Liberation Serif',serif;font-size:14.5px">I</text>
</svg>
</body></html>
